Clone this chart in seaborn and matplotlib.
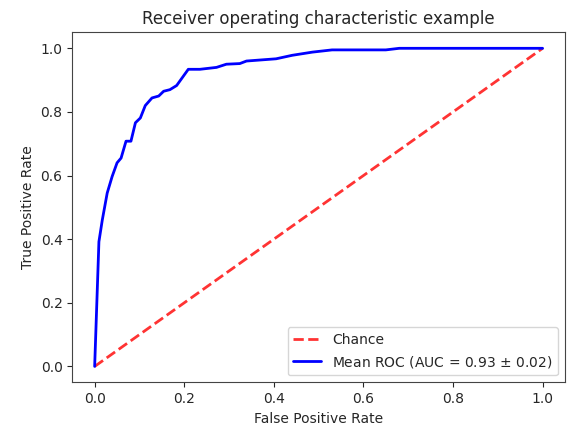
import matplotlib
matplotlib.use("Agg")
import matplotlib.pyplot as plt
import seaborn as sns

# mean ROC curve
fpr = [0.0, 0.0095, 0.017, 0.028, 0.039, 0.05, 0.059, 0.07, 0.081, 0.091, 0.102,
       0.113, 0.128, 0.143, 0.154, 0.168, 0.183, 0.209, 0.235, 0.272, 0.294,
       0.324, 0.339, 0.405, 0.441, 0.486, 0.53, 0.65, 0.68, 1.0]
tpr = [0.0, 0.392, 0.46, 0.545, 0.597, 0.64, 0.655, 0.708, 0.708, 0.766, 0.781,
       0.82, 0.844, 0.85, 0.865, 0.87, 0.883, 0.934, 0.934, 0.94, 0.95,
       0.952, 0.96, 0.967, 0.978, 0.988, 0.995, 0.995, 1.0, 1.0]
chance = [0, 1]

sns.set_style("ticks")
fig, ax = plt.subplots(figsize=(5.69, 4.32), dpi=100)

sns.lineplot(x=chance, y=chance, ax=ax, linestyle="--", lw=2, color="r",
             alpha=0.8, label="Chance")
sns.lineplot(x=fpr, y=tpr, ax=ax, color="b", lw=2, sort=False, estimator=None,
             label="Mean ROC (AUC = 0.93 $\\pm$ 0.02)")

ax.set_xlim(-0.05, 1.05)
ax.set_ylim(-0.05, 1.05)
ax.set_xlabel("False Positive Rate")
ax.set_ylabel("True Positive Rate")
ax.set_title("Receiver operating characteristic example")
ax.legend(loc="lower right")
for s in ax.spines.values():
    s.set_color("#444444")

fig.subplots_adjust(left=0.127, right=0.993, top=0.925, bottom=0.115)
fig.savefig("out.png")
